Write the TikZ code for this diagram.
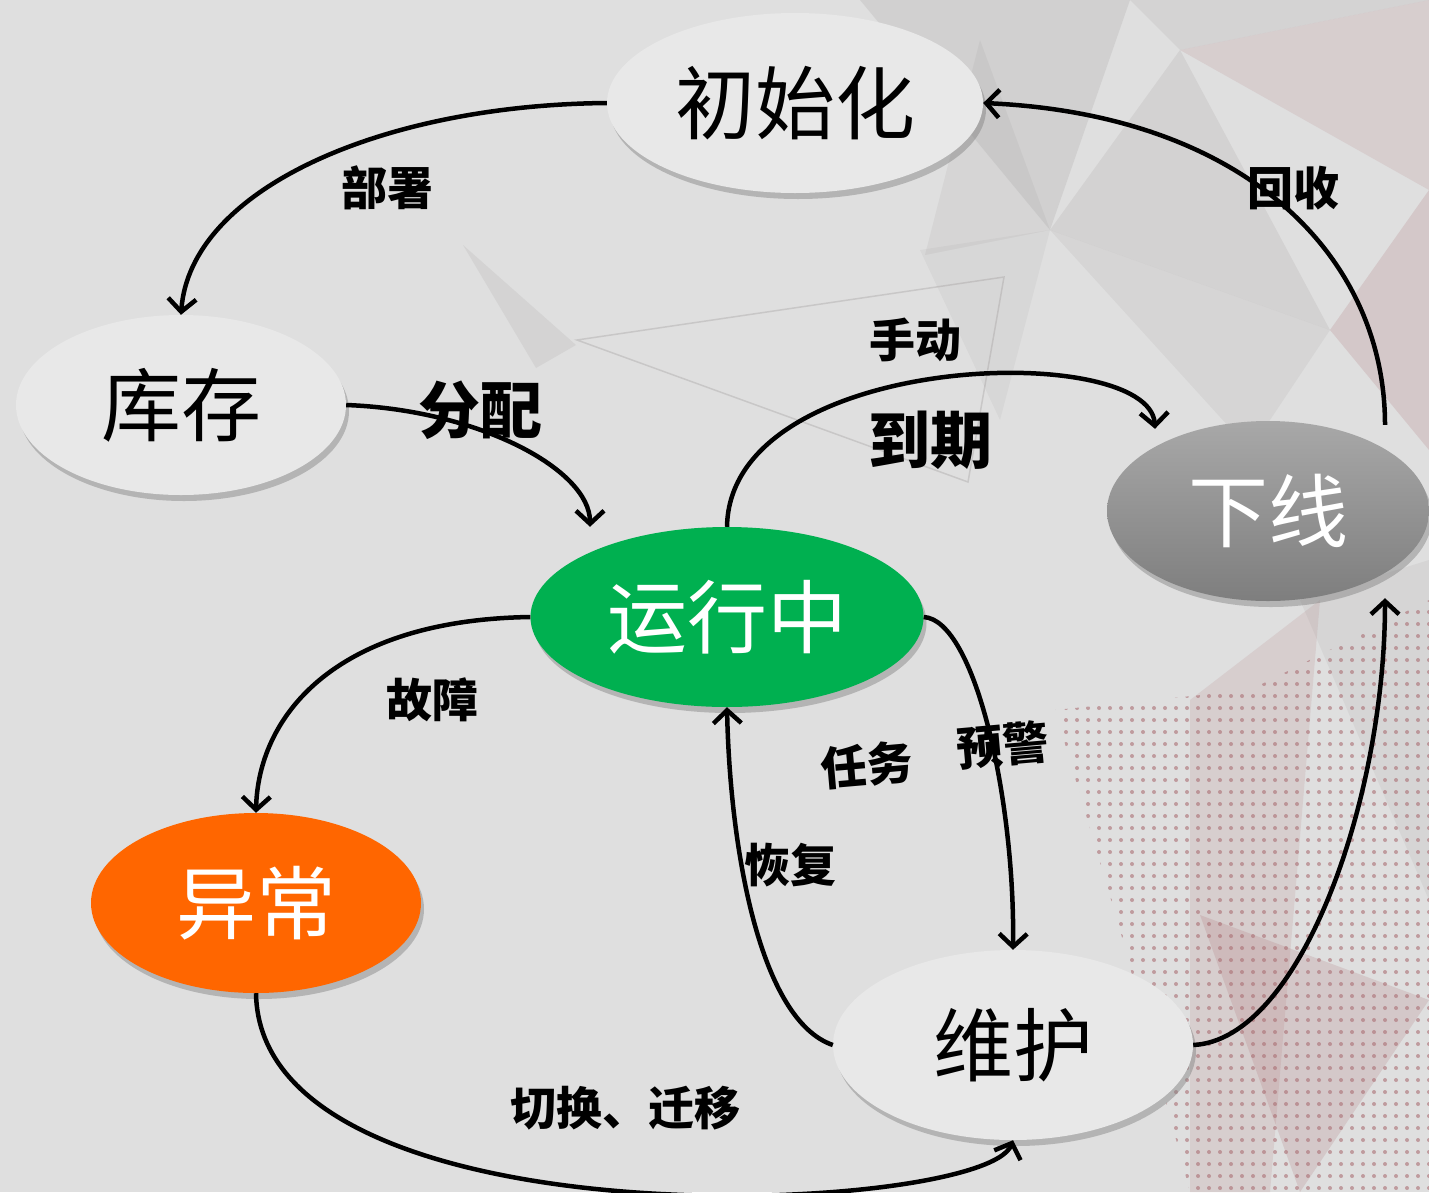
\documentclass[tikz,border=0pt]{standalone}
\usepackage{fontspec}
\newfontfamily\cjk{Noto Sans CJK SC}
\usetikzlibrary{shapes.geometric,shadows,arrows.meta}

\definecolor{bgfill}{RGB}{223,223,223}
\definecolor{idlefill}{RGB}{232,232,232}
\definecolor{runfill}{RGB}{0,176,80}
\definecolor{errfill}{RGB}{255,102,0}
\definecolor{offtop}{RGB}{168,168,168}
\definecolor{offbot}{RGB}{126,126,126}
\definecolor{facet}{RGB}{150,145,145}
\definecolor{facetred}{RGB}{170,110,115}

\begin{document}
\begin{tikzpicture}[x=1pt, y=-1pt,
state/.style={ellipse, inner sep=0pt, minimum width=330pt, minimum height=180pt, font=\cjk\fontsize{80}{80}\selectfont, drop shadow={shadow xshift=3pt, shadow yshift=-6pt, opacity=.45}},
idle/.style={fill=idlefill},
running/.style={fill=runfill, text=white},
offline/.style={top color=offtop, bottom color=offbot, text=white},
fault/.style={fill=errfill, text=white},
lbl/.style={font=\cjk\bfseries\fontsize{46}{46}\selectfont},
biglbl/.style={font=\cjk\bfseries\fontsize{62}{62}\selectfont},
flow/.style={line width=4.5pt, -{Straight Barb[length=13pt, width=28pt]}},
facetbox/.style={fill=facet, opacity=.18}
]

% background
\useasboundingbox (0,0) rectangle (1429,1192);
\fill [bgfill] (0,0) rectangle (1429,1192);
\fill [facetbox] (860,0) -- (1130,0) -- (1050,230) -- cycle;
\fill [facetbox, opacity=.12] (980,40) -- (1050,230) -- (925,255) -- cycle;
\fill [facetbox, opacity=.14] (1130,0) -- (1429,0) -- (1180,50) -- cycle;
\fill [facetbox, fill=facetred, opacity=.15] (1180,50) -- (1429,0) -- (1429,190) -- cycle;
\fill [facetbox, opacity=.16] (1050,230) -- (1180,50) -- (1330,330) -- cycle;
\fill [facetbox, opacity=.1] (920,250) -- (1050,230) -- (1000,420) -- cycle;
\fill [facetbox, opacity=.12] (1050,230) -- (1330,330) -- (1250,450) -- cycle;
\fill [facetbox, fill=facetred, opacity=.2] (1330,330) -- (1429,190) -- (1429,450) -- cycle;
\fill [facetbox, opacity=.15] (463,245) -- (576,345) -- (536,368) -- cycle;
\draw [facet, opacity=.3, line width=1.5pt] (577,340) -- (1004,277) -- (968,482) -- cycle;
\fill [facetbox, fill=facetred, opacity=.15] (1190,700) -- (1320,600) -- (1270,1192) -- (1190,1192) -- cycle;
\fill [facetbox, fill=facetred, opacity=.2] (1200,915) -- (1429,1000) -- (1300,1192) -- cycle;
\fill [facetbox, opacity=.12] (1300,600) -- (1429,560) -- (1429,900) -- cycle;
\begin{scope}
\clip (1055,710) -- (1250,690) -- (1429,600) -- (1429,1192) -- (1190,1192) -- (1120,930) -- cycle;
\foreach \i in {1055,1066,...,1429}
  \foreach \j in {600,612,...,1192}
    \fill [facetred, opacity=.6] (\i,\j) circle (2pt);
\end{scope}

% states
\node [state, idle, minimum width=376pt] (init) at (795,103) {初始化};
\node [state, idle] (stock) at (181,405) {库存};
\node [state, running, minimum width=393pt] (run) at (727,617) {运行中};
\node [state, offline, minimum width=322pt] (off) at (1268,511) {下线};
\node [state, fault] (err) at (256,903) {异常};
\node [state, idle, minimum width=360pt, minimum height=190pt] (maint) at (1013,1045) {维护};

% transitions
\draw [flow] (init.west) .. controls (380,105) and (190,190) .. (stock.north);
\draw [flow] (stock.east) .. controls (480,410) and (590,470) .. ([xshift=-137pt]run.north);
\draw [flow] (run.north) .. controls (730,350) and (1150,340) .. ([xshift=-113pt, yshift=-8pt]off.north);
\draw [flow] ([xshift=117pt, yshift=-4pt]off.north) .. controls (1385,260) and (1250,115) .. (init.east);
\draw [flow] (run.east) .. controls (975,620) and (1015,800) .. (maint.north);
\draw [flow] (maint.west) .. controls (760,1020) and (730,850) .. (run.south);
\draw [flow] (run.west) .. controls (330,620) and (258,720) .. (err.north);
\draw [flow] (err.south) .. controls (260,1250) and (985,1215) .. (maint.south);
\draw [flow] (maint.east) .. controls (1300,1040) and (1385,800) .. ([xshift=117pt, yshift=3pt]off.south);

% labels
\node [lbl] (deploy) at (387,188) {部署};
\node [biglbl] (assign) at (480,410) {分配};
\node [lbl] (manual) at (915,340) {手动};
\node [biglbl] (expire) at (930,440) {到期};
\node [lbl] (reclaim) at (1293,188) {回收};
\node [lbl] (failure) at (432,700) {故障};
\node [lbl, rotate=5] (task) at (867,765) {任务};
\node [lbl, rotate=5] (alarm) at (1003,745) {预警};
\node [lbl] (recover) at (790,865) {恢复};
\node [lbl] (migrate) at (625,1108) {切换、迁移};

\end{tikzpicture}
\end{document}
